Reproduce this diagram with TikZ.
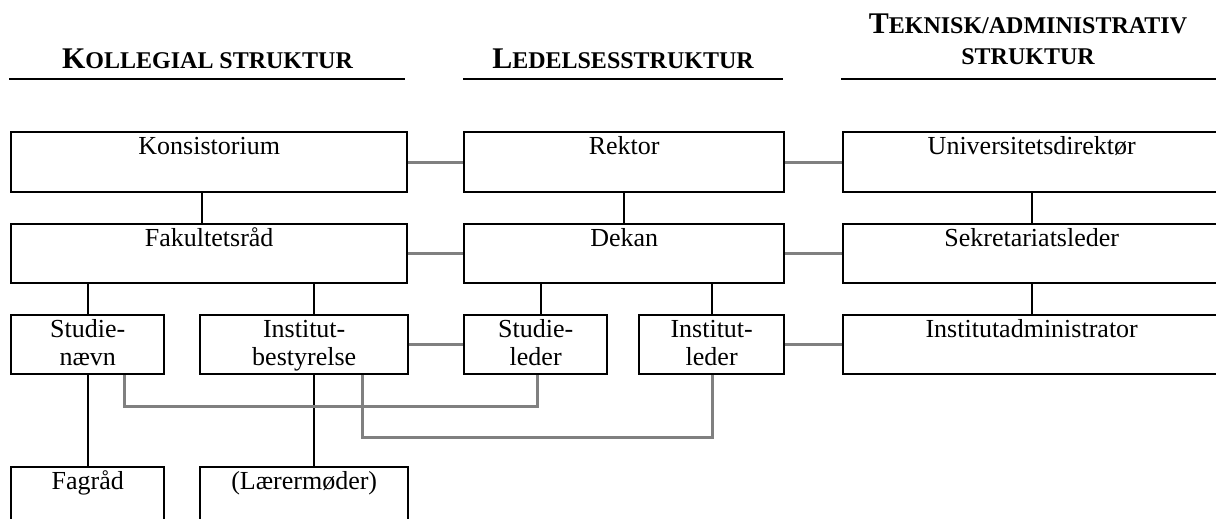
\documentclass[tikz,border=0pt]{standalone}
\usepackage{fontspec}
\setmainfont{Liberation Serif}
\definecolor{linkgray}{HTML}{808080}
% header text: large initial, remaining letters as smaller capitals
\newcommand\headcaps[2]{{\fontsize{30}{30}\selectfont #1}{\fontsize{24}{24}\selectfont #2}}
\newcommand\tallstrut{\rule{0pt}{20pt}}
\begin{document}
\begin{tikzpicture}[x=1pt,y=-1pt,
  box/.style={draw=black, line width=2.4pt, rectangle, inner sep=0pt, anchor=north west},
  lbl/.style={anchor=north, inner sep=0pt, align=center, font=\fontsize{26}{28.3}\selectfont},
  tie/.style={draw=black, line width=2.2pt},
  link/.style={draw=linkgray, line width=3pt, line join=miter},
  head/.style={anchor=base, inner sep=0pt, font=\bfseries},
  headrule/.style={draw=black, line width=2.2pt}]
\useasboundingbox (0,0) rectangle (1216,519);

% column headings
\node[head] (hk) at (207.5,69) {\headcaps{K}{OLLEGIAL STRUKTUR}};
\node[head] (hl) at (623,69) {\headcaps{L}{EDELSESSTRUKTUR}};
\node[head] (ht1) at (1028,34) {\headcaps{T}{EKNISK/ADMINISTRATIV}};
\node[head] (ht2) at (1028,65) {\headcaps{}{STRUKTUR}};
\draw[headrule] (9,79) -- (405,79);
\draw[headrule] (463,79) -- (783,79);
\draw[headrule] (841,79) -- (1219,79);

% boxes
\node[box, minimum width=396pt, minimum height=60pt] (kons) at (10,131) {};
\node[box, minimum width=320pt, minimum height=60pt] (rek) at (463,131) {};
\node[box, minimum width=377pt, minimum height=60pt] (udir) at (842,131) {};
\node[box, minimum width=396pt, minimum height=59pt] (fak) at (10,223) {};
\node[box, minimum width=320pt, minimum height=59pt] (dek) at (463,223) {};
\node[box, minimum width=377pt, minimum height=59pt] (sek) at (842,223) {};
\node[box, minimum width=153pt, minimum height=59pt] (stn) at (10,314) {};
\node[box, minimum width=208pt, minimum height=59pt] (inb) at (199,314) {};
\node[box, minimum width=143pt, minimum height=59pt] (stl) at (463,314) {};
\node[box, minimum width=145pt, minimum height=59pt] (inl) at (638,314) {};
\node[box, minimum width=377pt, minimum height=59pt] (iad) at (842,314) {};
\node[box, minimum width=153pt, minimum height=60pt] (fag) at (10,466) {};
\node[box, minimum width=208pt, minimum height=60pt] (lm) at (199,466) {};

% box captions, set at the top of each box
\node[lbl] (konsT) at ([yshift=-3pt]kons.north) {\tallstrut Konsistorium};
\node[lbl] (rekT) at ([yshift=-3pt]rek.north) {\tallstrut Rektor};
\node[lbl] (udirT) at ([yshift=-3pt]udir.north) {\tallstrut Universitetsdirektør};
\node[lbl] (fakT) at ([yshift=-3pt]fak.north) {\tallstrut Fakultetsråd};
\node[lbl] (dekT) at ([yshift=-3pt]dek.north) {\tallstrut Dekan};
\node[lbl] (sekT) at ([yshift=-3pt]sek.north) {\tallstrut Sekretariatsleder};
\node[lbl] (stnT) at ([yshift=-3pt]stn.north) {\tallstrut Studie-\\nævn};
\node[lbl] (inbT) at ([yshift=-3pt]inb.north) {\tallstrut Institut-\\bestyrelse};
\node[lbl] (stlT) at ([yshift=-3pt]stl.north) {\tallstrut Studie-\\leder};
\node[lbl] (inlT) at ([yshift=-3pt]inl.north) {\tallstrut Institut-\\leder};
\node[lbl] (iadT) at ([yshift=-3pt]iad.north) {\tallstrut Institutadministrator};
\node[lbl] (fagT) at ([yshift=-3pt]fag.north) {\tallstrut Fagråd};
\node[lbl] (lmT) at ([yshift=-3pt]lm.north) {\tallstrut (Lærermøder)};

% hierarchy within each column
\draw[tie] ([xshift=-7pt]kons.south) -- ([xshift=-7pt]kons.south |- fak.north);
\draw[tie] (rek.south -| dek.north) -- (dek.north);
\draw[tie] (udir.south -| sek.north) -- (sek.north);
\draw[tie] (stn.north |- fak.south) -- (stn.north);
\draw[tie] ([xshift=10pt]inb.north |- fak.south) -- ([xshift=10pt]inb.north);
\draw[tie] ([xshift=5.5pt]stl.north |- dek.south) -- ([xshift=5.5pt]stl.north);
\draw[tie] (inl.north |- dek.south) -- (inl.north);
\draw[tie] (sek.south -| iad.north) -- (iad.north);
\draw[tie] (stn.south -| fag.north) -- (fag.north);
\draw[tie] ([xshift=10pt]inb.south) -- ([xshift=10pt]inb.south |- lm.north);

% links across the columns
\draw[link] (kons.east) -- (rek.west);
\draw[link] (rek.east) -- (udir.west);
\draw[link] (fak.east) -- (dek.west);
\draw[link] (dek.east) -- (sek.west);
\draw[link] (inb.east) -- (stl.west);
\draw[link] (inl.east) -- (iad.west);
\draw[link] ([xshift=37pt]stn.south) -- ++(0,31) -| ([xshift=1.5pt]stl.south);
\draw[link] ([xshift=58pt]inb.south) -- ++(0,62) -| ([xshift=1pt]inl.south);
\end{tikzpicture}
\end{document}
